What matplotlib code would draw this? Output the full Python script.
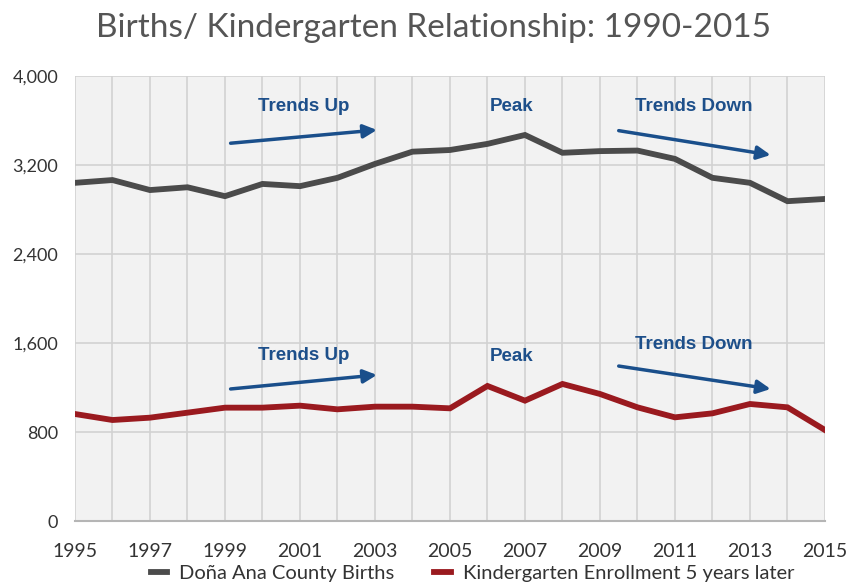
import matplotlib
matplotlib.use("Agg")
import matplotlib.pyplot as plt
from matplotlib.ticker import FuncFormatter, MultipleLocator, FixedLocator

years = list(range(1995, 2016))
births = [3040, 3065, 2975, 3000, 2920, 3030, 3010, 3085, 3210, 3320,
          3335, 3390, 3470, 3310, 3325, 3330, 3255, 3085, 3040, 2875, 2895]
kinder = [962, 908, 929, 974, 1019, 1019, 1037, 1004, 1028, 1028,
          1013, 1214, 1082, 1232, 1142, 1022, 932, 968, 1052, 1022, 818]
year_ticks = years[::2]

title = "Births/ Kindergarten Relationship: 1990-2015"
series_names = ["Doña Ana County Births", "Kindergarten Enrollment 5 years later"]

# annotation labels: (text, x, y)
notes_text = [("Trends Up", 2001.1, 3722), ("Peak", 2006.65, 3722), ("Trends Down", 2011.5, 3722),
              ("Trends Up", 2001.1, 1486), ("Peak", 2006.65, 1483), ("Trends Down", 2011.5, 1589)]
# arrows: (x0, y0, x1, y1)
notes_arrows = [(1999.15, 3396, 2003.05, 3515), (2009.5, 3509, 2013.55, 3290),
                (1999.15, 1187, 2003.05, 1313), (2009.5, 1393, 2013.55, 1187)]

plt.rcParams['font.family'] = ['Lato', 'DejaVu Sans']

fig = plt.figure(figsize=(8.54, 5.83), dpi=100)
ax = fig.add_axes([0.0878, 0.1063, 0.8782, 0.7633])
ax.set_facecolor('#f2f2f2')

ax.plot(years, births, color='#4b4b4b', lw=4.2, label=series_names[0], solid_joinstyle='miter')
ax.plot(years, kinder, color='#9a1a1f', lw=4.2, label=series_names[1], solid_joinstyle='miter')

ax.set_xlim(1995, 2015)
ax.set_ylim(0, 4000)
ax.xaxis.set_major_locator(FixedLocator(year_ticks))
ax.xaxis.set_minor_locator(FixedLocator(years))
ax.yaxis.set_major_locator(MultipleLocator(800))
ax.yaxis.set_major_formatter(FuncFormatter(lambda v, p: f"{int(v):,}"))
ax.grid(True, which='both', axis='x', color='#d2d2d2', lw=1.2)
ax.grid(True, which='major', axis='y', color='#d2d2d2', lw=1.2)
ax.set_axisbelow(True)
for s in ['top', 'right', 'left']:
    ax.spines[s].set_visible(False)
ax.spines['bottom'].set_color('#b5b5b5')
ax.spines['bottom'].set_linewidth(1.5)
ax.tick_params(axis='both', which='both', length=0, colors='#333333')
ax.tick_params(axis='x', labelsize=14, pad=16)
ax.tick_params(axis='y', labelsize=13, pad=12)

for txt, x, y in notes_text:
    ax.text(x, y, txt, ha='center', va='center', fontsize=13.5, fontweight='bold',
            color='#1d4f8a', family='Liberation Sans')
for x0, y0, x1, y1 in notes_arrows:
    ax.annotate('', xy=(x1, y1), xytext=(x0, y0),
                arrowprops=dict(arrowstyle='-|>,head_length=0.8,head_width=0.4',
                                color='#1a4f8b', lw=2.5, shrinkA=0, shrinkB=0))

fig.suptitle(title, x=0.508, y=0.978, fontsize=24, color='#555555')
ax.legend(loc='center', bbox_to_anchor=(0.53, -0.117), ncol=2, frameon=False,
          fontsize=14.5, handlelength=0.8, columnspacing=2.0, handletextpad=0.6,
          labelcolor='#333333')

fig.savefig('out.png', dpi=100)
